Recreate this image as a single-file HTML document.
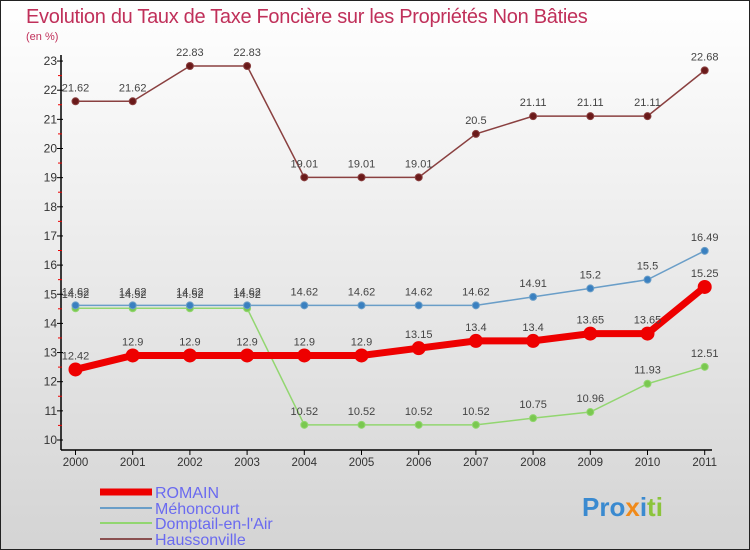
<!DOCTYPE html>
<html><head><meta charset="utf-8"><style>
body{margin:0;width:750px;height:550px;overflow:hidden;font-family:"Liberation Sans",sans-serif}
#frame{position:absolute;left:0;top:0;width:748px;height:548px;border:1px solid #222;background:linear-gradient(#ffffff,#d4d4d4)}
</style></head><body>
<div id="frame">
<svg width="750" height="550" style="position:absolute;left:-1px;top:-1px" id="chart">
<text x="26" y="23" font-size="20" fill="#c0305a" letter-spacing="-0.3">Evolution du Taux de Taxe Foncière sur les Propriétés Non Bâties</text>
<text x="26" y="40" font-size="11" fill="#c0305a">(en %)</text>
<g id="axes"></g><g id="series"></g>
<g id="legend" font-size="16" fill="#6a6af0">
<line x1="100" y1="492" x2="152" y2="492" stroke="#ee0000" stroke-width="7"/>
<text x="155" y="498">ROMAIN</text>
<line x1="100" y1="508" x2="152" y2="508" stroke="#6a9ec8" stroke-width="2"/>
<text x="155" y="514">Méhoncourt</text>
<line x1="100" y1="523" x2="152" y2="523" stroke="#92d670" stroke-width="2"/>
<text x="155" y="529">Domptail-en-l'Air</text>
<line x1="100" y1="539" x2="152" y2="539" stroke="#8a5050" stroke-width="2"/>
<text x="155" y="545">Haussonville</text>
</g>
<text x="582" y="516" font-size="26" font-weight="bold"><tspan fill="#3a8ad0">Pro</tspan><tspan fill="#f08a1a">x</tspan><tspan fill="#3a8ad0">i</tspan><tspan fill="#8cc43c">ti</tspan></text>
</svg></div>
<script>
const years=["2000","2001","2002","2003","2004","2005","2006","2007","2008","2009","2010","2011"];
const yTicks=[10,11,12,13,14,15,16,17,18,19,20,21,22,23];
const romain=[12.42,12.9,12.9,12.9,12.9,12.9,13.15,13.4,13.4,13.65,13.65,15.25];
const mehoncourt=[14.62,14.62,14.62,14.62,14.62,14.62,14.62,14.62,14.91,15.2,15.5,16.49];
const domptail=[14.52,14.52,14.52,14.52,10.52,10.52,10.52,10.52,10.75,10.96,11.93,12.51];
const haussonville=[21.62,21.62,22.83,22.83,19.01,19.01,19.01,20.5,21.11,21.11,21.11,22.68];
const NS="http://www.w3.org/2000/svg";
const xs=i=>75.5+i*57.2;
const ys=v=>440-(v-10)*29.15;
function mk(t,a,p){const e=document.createElementNS(NS,t);for(const k in a)e.setAttribute(k,a[k]);p.appendChild(e);return e;}
const ax=document.getElementById('axes');
let l=mk('line',{x1:61,y1:55,x2:61,y2:450,stroke:'#000','stroke-width':1.5},ax);


l=mk('line',{x1:61,y1:450,x2:712,y2:450,stroke:'#000','stroke-width':1.5},ax);


yTicks.forEach(v=>{const y=ys(v);
mk('line',{x1:57,y1:y,x2:63,y2:y,stroke:'#000'},ax);
if(v<23)mk('line',{x1:58,y1:y-14.6,x2:62,y2:y-14.6,stroke:'#e00'},ax);
const t=mk('text',{x:57,y:y+4,'font-size':12,'text-anchor':'end',fill:'#333'},ax);t.textContent=v;

});
years.forEach((yr,i)=>{const x=xs(i);mk('line',{x1:x,y1:450,x2:x,y2:455,stroke:'#000'},ax);
const t=mk('text',{x:x,y:466,'font-size':11.5,'text-anchor':'middle',fill:'#333'},ax);t.textContent=yr;

});
const sg=document.getElementById('series');
function draw(data,name,color,w,r,dot){
const g=mk('g',{},sg);


mk('polyline',{points:data.map((v,i)=>xs(i)+','+ys(v)).join(' '),fill:'none',stroke:color,'stroke-width':w},g);
data.forEach((v,i)=>{const c=mk('circle',{cx:xs(i),cy:ys(v),r:r,fill:dot,stroke:color,'stroke-width':1},g);


const t=mk('text',{x:xs(i),y:ys(v)-10,'font-size':11,'text-anchor':'middle',fill:'#444'},g);t.textContent=String(v);

});}
draw(haussonville,'haussonville','#8a4040',1.5,3.5,'#6a1a1a');
draw(domptail,'domptail','#92d670',1.5,3.5,'#7ac850');
draw(mehoncourt,'mehoncourt','#6a9ec8',1.5,3.5,'#3a80c0');
draw(romain,'romain','#ee0000',7,6.5,'#ee0000');
</script>
</body></html>
